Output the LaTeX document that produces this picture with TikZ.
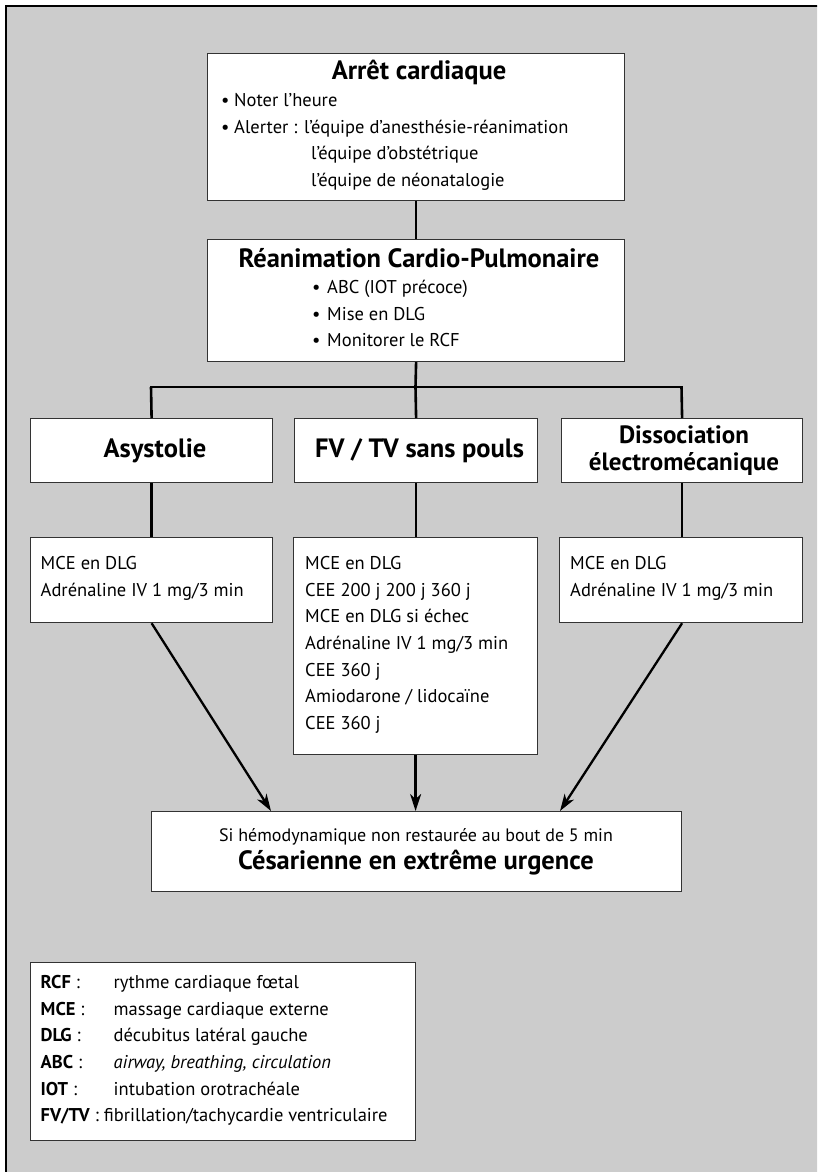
\documentclass[tikz,border=0pt]{standalone}
\usepackage{fontspec}
\setmainfont{PT Sans}
\usetikzlibrary{arrows.meta}
\begin{document}
\begin{tikzpicture}[x=1pt,y=-1pt,
  box/.style={draw=black!80, line width=1.2pt, fill=white, inner sep=0pt, anchor=north west},
  conn/.style={line width=2.6pt},
  arr/.style={line width=2.3pt, -{Stealth[length=17pt,width=11pt,inset=5pt]}},
  txt/.style={anchor=base west, inner sep=0pt, font=\fontsize{18.5}{22}\selectfont},
  ctxt/.style={anchor=base, inner sep=0pt, font=\fontsize{18}{21}\selectfont},
  ttl/.style={anchor=base, inner sep=0pt, font=\fontsize{26.5}{30}\selectfont\bfseries},
  ttlsm/.style={anchor=base, inner sep=0pt, font=\fontsize{25}{29}\selectfont\bfseries},
]
\useasboundingbox (0,0) rectangle (817,1172);
\fill[white] (0,0) rectangle (817,1172);
\begin{scope}
  \clip (0,0) rectangle (817,1172);
  \draw[fill=gray!40, line width=1.5pt] (6,6) rectangle (840,1190);
\end{scope}

% boxes
\node[box, minimum width=417pt, minimum height=147pt] (b1) at (207,53) {};
\node[box, minimum width=417pt, minimum height=122pt] (b2) at (207,239) {};
\node[box, minimum width=242pt, minimum height=64pt] (asys) at (30,418) {};
\node[box, minimum width=243pt, minimum height=64pt] (fvtv) at (294,418) {};
\node[box, minimum width=241pt, minimum height=64pt] (dem) at (561,418) {};
\node[box, minimum width=242pt, minimum height=85pt] (a2) at (30,537) {};
\node[box, minimum width=244pt, minimum height=217pt] (f2) at (293,537) {};
\node[box, minimum width=243pt, minimum height=85pt] (d2) at (559,537) {};
\node[box, minimum width=530pt, minimum height=80pt] (fin) at (151,811) {};
\node[box, minimum width=385pt, minimum height=178pt] (leg) at (30,962) {};

% connectors
\coordinate (barL) at (151,387);
\coordinate (barM) at (415.5,387);
\coordinate (barR) at (681.5,387);
\coordinate (tipL) at (271,811);
\coordinate (tipR) at (560,811);
\draw[conn] (b1.south) -- (b2.north);
\draw[conn] (b2.south) -- (barM);
\draw[conn, line cap=rect] (barL) -- (barR);
\draw[conn] (barL) -- (asys.north);
\draw[conn] (barM) -- (fvtv.north);
\draw[conn] (barR) -- (dem.north);
\draw[conn] (asys.south) -- (a2.north);
\draw[conn] (fvtv.south) -- (fvtv.south |- f2.north);
\draw[conn] (dem.south) -- (dem.south |- d2.north);
\draw[arr] (a2.south) -- (tipL);
\draw[arr] (f2.south) -- (f2.south |- fin.north);
\draw[arr] (dem.south |- d2.south) -- (tipR);

% box 1
\node[ttl] (t1) at (419,80) {Arrêt cardiaque};
\node[txt] (t1a) at (221,106) {\textbullet};
\node[txt] (t1b) at (234,106) {Noter l’heure};
\node[txt] (t1c) at (221,133) {\textbullet};
\node[txt] (t1d) at (234,133) {Alerter : l’équipe d’anesthésie-réanimation};
\node[txt] (t1e) at (311,159.5) {l’équipe d’obstétrique};
\node[txt] (t1f) at (311,186) {l’équipe de néonatalogie};

% box 2
\node[ttl] (t2) at (419,267) {Réanimation Cardio-Pulmonaire};
\node[txt] (t2a) at (312,293) {\textbullet};
\node[txt] (t2b) at (327,293) {ABC (IOT précoce)};
\node[txt] (t2c) at (312,320) {\textbullet};
\node[txt] (t2d) at (327,320) {Mise en DLG};
\node[txt] (t2e) at (312,346.5) {\textbullet};
\node[txt] (t2f) at (327,346.5) {Monitorer le RCF};

% row 1
\node[ttl] (t3) at (155,457) {Asystolie};
\node[ttl] (t4) at (419.5,457) {FV / TV sans pouls};
\node[ttlsm] (t5) at (684,443) {Dissociation};
\node[ttlsm] (t6) at (684,470) {électromécanique};

% row 2
\node[txt] (a2a) at (40.5,569) {MCE en DLG};
\node[txt] (a2b) at (40.5,596) {Adrénaline IV 1 mg/3 min};
\node[txt] (f2a) at (305,569) {MCE en DLG};
\node[txt] (f2b) at (305,596) {CEE 200 j 200 j 360 j};
\node[txt] (f2c) at (305,622.5) {MCE en DLG si échec};
\node[txt] (f2d) at (305,649) {Adrénaline IV 1 mg/3 min};
\node[txt] (f2e) at (305,676) {CEE 360 j};
\node[txt] (f2f) at (305,702.5) {Amiodarone / lidocaïne};
\node[txt] (f2g) at (305,729) {CEE 360 j};
\node[txt] (d2a) at (570,569) {MCE en DLG};
\node[txt] (d2b) at (570,596) {Adrénaline IV 1 mg/3 min};

% final
\node[ctxt] (fa) at (416,841) {Si hémodynamique non restaurée au bout de 5 min};
\node[ttl] (fb) at (416,869) {Césarienne en extrême urgence};

% legend
\node[txt] (l1a) at (40.5,988) {\textbf{RCF} :};
\node[txt] (l1b) at (113.5,988) {rythme cardiaque fœtal};
\node[txt] (l2a) at (40.5,1015) {\textbf{MCE} :};
\node[txt] (l2b) at (113.5,1015) {massage cardiaque externe};
\node[txt] (l3a) at (40.5,1041.5) {\textbf{DLG} :};
\node[txt] (l3b) at (113.5,1041.5) {décubitus latéral gauche};
\node[txt] (l4a) at (40.5,1068) {\textbf{ABC} :};
\node[txt] (l4b) at (113.5,1068) {\itshape airway, breathing, circulation};
\node[txt] (l5a) at (40.5,1095) {\textbf{IOT} :};
\node[txt] (l5b) at (113.5,1095) {intubation orotrachéale};
\node[txt] (l6a) at (40.5,1121.5) {\textbf{FV/TV} : fibrillation/tachycardie ventriculaire};
\end{tikzpicture}
\end{document}
